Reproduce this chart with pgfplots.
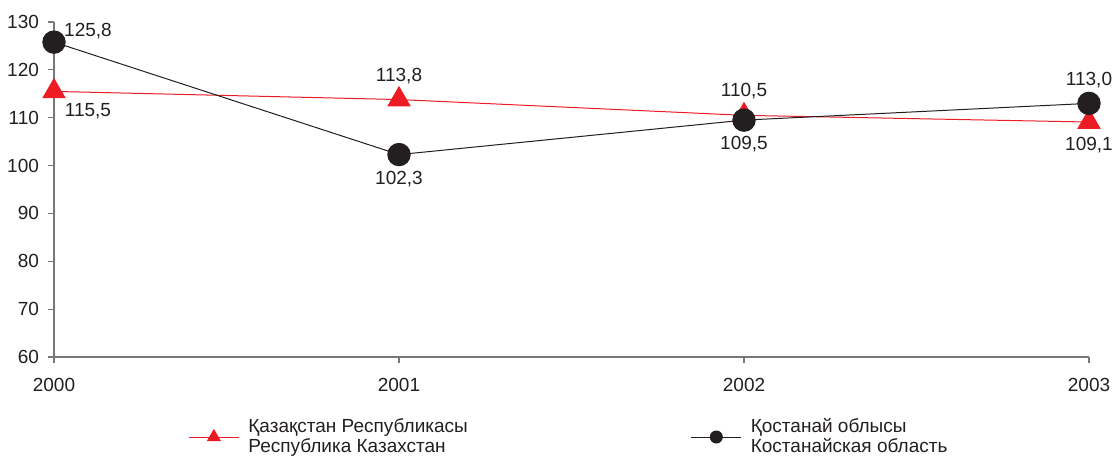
\documentclass[border=0pt]{standalone}
\usepackage{fontspec}
\setmainfont{Liberation Sans}
\usepackage{pgfplots}
\pgfplotsset{compat=1.18}
\definecolor{kzred}{RGB}{237,28,36}
\definecolor{kzblack}{RGB}{35,31,32}
\definecolor{axgray}{RGB}{120,120,120}
\newcommand{\lf}{\fontsize{9.5}{10}\selectfont}
\begin{document}
\begin{tikzpicture}
\useasboundingbox (-27pt,-50pt) rectangle (529pt,178.5pt);
\begin{axis}[
  at={(0,0)}, anchor=south west,
  scale only axis, width=517.5pt, height=167.5pt,
  xmin=2000, xmax=2003, ymin=60, ymax=130,
  xtick={2000,2001,2002,2003},
  xticklabels={2000,2001,2002,2003},
  ytick={60,70,...,130},
  axis lines*=left,
  axis line style={axgray, line width=0.6pt, -},
  tick style={axgray, line width=0.6pt},
  tick align=outside,
  major tick length=3pt,
  /pgf/number format/assume math mode=true,
  tick label style={font=\lf, text=kzblack},
  xticklabel style={yshift=-4pt},
  yticklabel style={xshift=-1pt},
  clip=false,
  legend columns=2,
  legend style={
    draw=none, fill=none, inner sep=0pt,
    font=\lf, text=kzblack,
    at={([xshift=67pt,yshift=-40pt]axis description cs:0,0)}, anchor=west,
    cells={anchor=west, align=left},
    nodes={inner sep=2pt},
    /tikz/every even column/.append style={column sep=109.5pt},
  },
]
\addplot[color=kzred, line width=0.5pt, mark=triangle*, mark size=6.3pt,
  mark options={fill=kzred, draw=kzred},
  legend image code/.code={
    \draw[kzred, line width=0.5pt] (0pt,0pt) -- (25pt,0pt);
    \draw[kzred, fill=kzred, mark size=3.6pt] plot[mark=triangle*] coordinates {(12.5pt,0pt)};
    \path (27.5pt,0pt);
  }]
  coordinates {(2000,115.5) (2001,113.8) (2002,110.5) (2003,109.1)};
\addlegendentry{Қазақстан Республикасы\\Республика Казахстан}
\addplot[color=kzblack, line width=0.5pt, mark=*, mark size=5.6pt,
  mark options={fill=kzblack, draw=kzblack},
  legend image code/.code={
    \draw[kzblack, line width=0.5pt] (0pt,0pt) -- (25pt,0pt);
    \draw[kzblack, fill=kzblack, mark size=3pt] plot[mark=*] coordinates {(12.5pt,0pt)};
    \path (27.5pt,0pt);
  }]
  coordinates {(2000,125.8) (2001,102.3) (2002,109.5) (2003,113.0)};
\addlegendentry{Қостанай облысы\\Костанайская область}
\begin{scope}[every node/.style={font=\lf, text=kzblack}]
\node at (axis cs:2000,125.8) [xshift=17pt, yshift=5.5pt] {125,8};
\node at (axis cs:2000,115.5) [xshift=17pt, yshift=-10pt] {115,5};
\node at (axis cs:2001,113.8) [yshift=11.5pt] {113,8};
\node at (axis cs:2001,102.3) [yshift=-12pt] {102,3};
\node at (axis cs:2002,110.5) [yshift=12pt] {110,5};
\node at (axis cs:2002,109.5) [yshift=-12pt] {109,5};
\node at (axis cs:2003,113.0) [yshift=11.5pt] {113,0};
\node at (axis cs:2003,109.1) [yshift=-11.5pt] {109,1};
\end{scope}
\end{axis}
\end{tikzpicture}
\end{document}
